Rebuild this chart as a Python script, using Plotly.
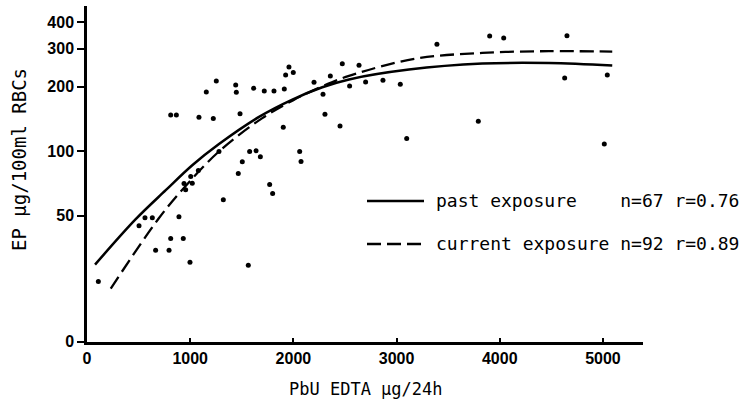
import plotly.graph_objects as go
import numpy as np

# scatter data (PbU EDTA µg/24h, EP µg/100ml RBCs)
pts_x = [110, 504, 562, 633, 665, 795, 811, 811, 866, 891, 933, 940, 956, 1005, 1020, 998,
         1079, 1085, 1156, 1224, 1253, 1279, 1321, 1441, 1447, 1483, 1466, 1505, 1563, 1576,
         1615, 1638, 1680, 1718, 1770, 1799, 1812, 1902, 1912, 1925, 1957, 1999, 2061, 2074,
         2200, 2287, 2306, 2358, 2452, 2474, 2545, 2636, 2700, 2868, 3036, 3098,
         3391, 3792, 3902, 4038, 4629, 4651, 5013, 5042]
pts_y = [24.7, 44.9, 49, 49, 34.5, 34.5, 39.2, 147.6, 147.6, 49.5, 39.2, 70.7, 66.1, 76.2, 70.9, 30.4,
         81.3, 144, 188.8, 142, 212.6, 99.7, 59.4, 203.7, 188.3, 149.6, 78.6, 89.2, 29.4, 99.7,
         196.6, 100.5, 94.1, 191, 70, 63.5, 191, 129.4, 195.1, 226.7, 247, 232.4, 99.7, 89.5,
         209.6, 184.3, 148.8, 224.3, 131.2, 255.8, 201.4, 251.5, 210.3, 214.3, 205.2, 114.6,
         315, 138, 344, 337, 219.5, 345, 107.9, 226.7]

# fitted curves
past_x = [78, 472, 763, 1020, 1279, 1667, 1990, 2280, 2539, 3120, 3830, 4477, 5090]
past_y = [29.6, 48.2, 65.8, 86, 108, 144.5, 174, 198.5, 216, 240, 256, 257.5, 250.5]
curr_x = [230, 698, 956, 1279, 1699, 2000, 2280, 2539, 3185, 3830, 4477, 5090]
curr_y = [22.9, 48.8, 68.9, 99.7, 142.6, 173, 200.5, 224.5, 270, 287, 292.5, 291]

# axis ticks
x_ticks = [0, 1000, 2000, 3000, 4000, 5000]
x_ticktext = ["0", "1000", "2000", "3000", "4000", "5000"]
y_zero = 12.92
y_ticks = [y_zero, 50, 100, 200, 300, 400]
y_ticktext = ["0", "50", "100", "200", "300", "400"]

legend_labels = ["past exposure    n=67 r=0.76", "current exposure n=92 r=0.89"]

W, H = 752, 409
L, R, T, B = 87, 109, 6, 67
pw, ph = W - L - R, H - T - B

def px(x):
    return (x - L) / pw

def py(y):
    return (H - B - y) / ph

fig = go.Figure()
fig.add_trace(go.Scatter(x=past_x, y=past_y, mode="lines", line=dict(color="black", width=2.5, shape="spline"), showlegend=False))
fig.add_trace(go.Scatter(x=curr_x, y=curr_y, mode="lines", line=dict(color="black", width=2.3, dash="14px,6px", shape="spline"), showlegend=False))
fig.add_trace(go.Scatter(x=pts_x, y=pts_y, mode="markers", marker=dict(color="black", size=5), showlegend=False))

mono = "DejaVu Sans Mono"
# legend
fig.add_shape(type="line", xref="paper", yref="paper", x0=px(367), x1=px(424), y0=py(201), y1=py(201),
              line=dict(color="black", width=2.4))
fig.add_shape(type="line", xref="paper", yref="paper", x0=px(367), x1=px(424), y0=py(244), y1=py(244),
              line=dict(color="black", width=2.4, dash="14px,6px"))
for lab, yy in zip(legend_labels, [201, 244]):
    fig.add_annotation(text=lab.replace(" ", "\u00a0"), xref="paper", yref="paper", x=px(434), y=py(yy),
                       xanchor="left", yanchor="middle", showarrow=False,
                       font=dict(family=mono, size=18, color="black"))

# axis titles
fig.add_annotation(text="PbU EDTA μg/24h", xref="paper", yref="paper", x=px(366), y=py(389),
                   xanchor="center", yanchor="middle", showarrow=False,
                   font=dict(family=mono, size=17, color="black"))
fig.add_annotation(text="EP μg/100ml RBCs", xref="paper", yref="paper", x=px(19), y=py(160),
                   xanchor="center", yanchor="middle", textangle=-90, showarrow=False,
                   font=dict(family=mono, size=19, color="black"))

tickfont = dict(family="Liberation Sans", size=16, color="black", weight="bold")
fig.update_xaxes(range=[0, 5388], tickvals=x_ticks, ticktext=x_ticktext, showgrid=False, zeroline=False,
                 showline=True, linecolor="black", linewidth=2.5, ticks="inside", ticklen=4, tickwidth=1.5,
                 tickcolor="black", tickfont=tickfont)
fig.update_yaxes(type="log", range=[np.log10(12.9), np.log10(475)], tickvals=y_ticks, ticktext=y_ticktext,
                 showgrid=False, zeroline=False, showline=True, linecolor="black", linewidth=2.5,
                 ticks="outside", ticklen=7, tickwidth=1.5, tickcolor="black", tickfont=tickfont)

fig.update_layout(width=W, height=H, margin=dict(l=L, r=R, t=T, b=B), plot_bgcolor="white",
                  paper_bgcolor="white")
fig.write_html("out.html")
